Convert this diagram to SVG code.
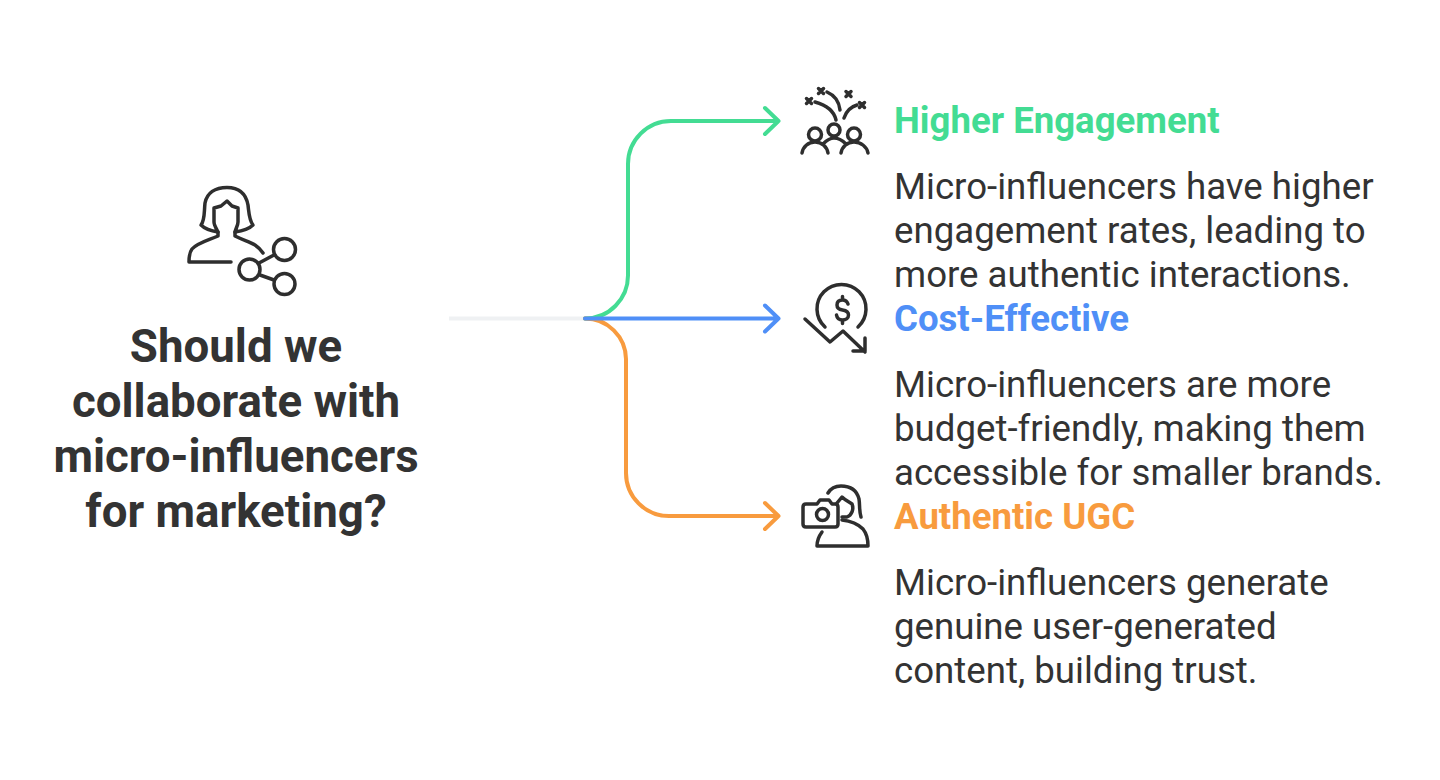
<svg xmlns="http://www.w3.org/2000/svg" width="1440" height="780" viewBox="0 0 1440 780">
<style>
.ic{fill:none;stroke:#2e2e2e;stroke-width:3.500;stroke-linecap:round;stroke-linejoin:round}
.t{font-family:Roboto,"Liberation Sans",sans-serif;fill:#333}
.title{font-size:45.650px;font-weight:700;text-anchor:middle}
.h{font-size:36.600px;font-weight:700}
.b{font-size:36.650px;font-weight:400}
.c{fill:none;stroke-width:4;stroke-linecap:round;stroke-linejoin:round}
</style>
<rect width="1440" height="780" fill="#fff"/>
<g id="connectors">
<path d="M449 318.500H585" fill="none" stroke="#eff1f3" stroke-width="4"/>
<path class="c" stroke="#43dc93" d="M585 318.500A43 43 0 0 0 628 275V164A43 43 0 0 1 671 121H778.500M765 108L778.500 121L765 134"/>
<path class="c" stroke="#f89b3e" d="M585 318.500A41 41 0 0 1 626 359V473A43 43 0 0 0 669 516H778.500M765 503L778.500 516L765 529"/>
<path class="c" stroke="#4f8ff7" d="M585 318.500H778.500M765 305.500L778.500 318.500L765 331.500"/>
</g>
<g id="root">
<g class="ic">
<path d="M201 225C205 220 204 212 205 203C207 193 215 187.500 227 187.500C239 187.500 246 194 248 205C249 213 249 220 253 225C249 229 242 231 235 232C236 228 238 225 238 222V208L232 206L227 201L221 206L214 208V222C214 225 216 228 218 232C211 231 205 229 201 225Z"/>
<path d="M218 232V236C206 241 197 243 192 249C189 253 189 257 189 262H231"/>
<path d="M235 232V236C243 240 250 242 255 245C258 247 261 250 263 253"/>
<circle cx="284.500" cy="249.500" r="11"/>
<circle cx="249.500" cy="269.500" r="10.500"/>
<circle cx="284.500" cy="284" r="10.500"/>
<path d="M259 263L274 255M260 275L274 280"/>
</g>
<text class="t title" x="236" y="361.500">Should we</text>
<text class="t title" x="236" y="416.500">collaborate with</text>
<text class="t title" x="236" y="471.500">micro-influencers</text>
<text class="t title" x="236" y="526.500">for marketing?</text>
</g>
<g id="higher-engagement">
<g class="ic">
<path d="M806.500 98.500L811.500 103.500M811.500 98.500L806.500 103.500M818.500 88.500L823.500 93.500M823.500 88.500L818.500 93.500M846 91.500L851 96.500M851 91.500L846 96.500M859.500 102.500L864.500 107.500M864.500 102.500L859.500 107.500"/>
<path d="M815 102C826 105 834 111 836 120M827 92C834 95 839 101 840 110M844 118C846 112 850 107 857 105"/>
<circle cx="815" cy="134.500" r="6.500"/>
<circle cx="834" cy="130" r="6"/>
<circle cx="854" cy="134.500" r="6.500"/>
<path d="M802 153C803 147 808 142 815 142C822 142 827 147 828 153M823 144C826 141 830 138 834 138C839 138 843 141 846 144M841 153C842 147 847 142 854 142C861 142 867 147 868 153"/>
</g>
<text class="t h" x="894" y="133" style="fill:#43dc93">Higher Engagement</text>
<text class="t b" x="894" y="199">Micro-influencers have higher</text>
<text class="t b" x="894" y="243">engagement rates, leading to</text>
<text class="t b" x="894" y="287">more authentic interactions.</text>
</g>
<g id="cost-effective">
<g class="ic">
<path d="M825 327A24.500 24.500 0 1 1 858 327"/>
<path d="M848 304C847 301 845 300 842.500 300C839 300 837 302 837 305C837 308 839 309.500 842.500 310C846 310.500 848.500 312 848.500 315C848.500 318 846 320 842.500 320C839 320 837 318 836.500 315M842.500 296.500V300M842.500 320V323.500"/>
<path d="M805 319L830 342L843 331L865 352M865 338V351H853"/>
</g>
<text class="t h" x="894" y="331" style="fill:#4f8ff7">Cost-Effective</text>
<text class="t b" x="894" y="397">Micro-influencers are more</text>
<text class="t b" x="894" y="441">budget-friendly, making them</text>
<text class="t b" x="894" y="485">accessible for smaller brands.</text>
</g>
<g id="authentic-ugc">
<g class="ic">
<path d="M806 504H817L820 500H829L832 504H835C837 504 838 505 838 507V524C838 526 837 527 835 527H806C804 527 803 526 803 524V507C803 505 804 504 806 504Z"/>
<circle cx="822.500" cy="514.500" r="6"/>
<path d="M828 493C831 488 835 486 841 486C851 486 857 491 859 499C860 505 859 511 861 517"/>
<path d="M837 503L842 497C845 500 849 502 852 504C854 509 852 515 847 517H842"/>
<path d="M842 520C851 521 858 524 863 529C867 534 868 540 868 546H817C817 541 819 536 822 532"/>
</g>
<text class="t h" x="894" y="529" style="fill:#f89b3e">Authentic UGC</text>
<text class="t b" x="894" y="595">Micro-influencers generate</text>
<text class="t b" x="894" y="639">genuine user-generated</text>
<text class="t b" x="894" y="683">content, building trust.</text>
</g>
</svg>
